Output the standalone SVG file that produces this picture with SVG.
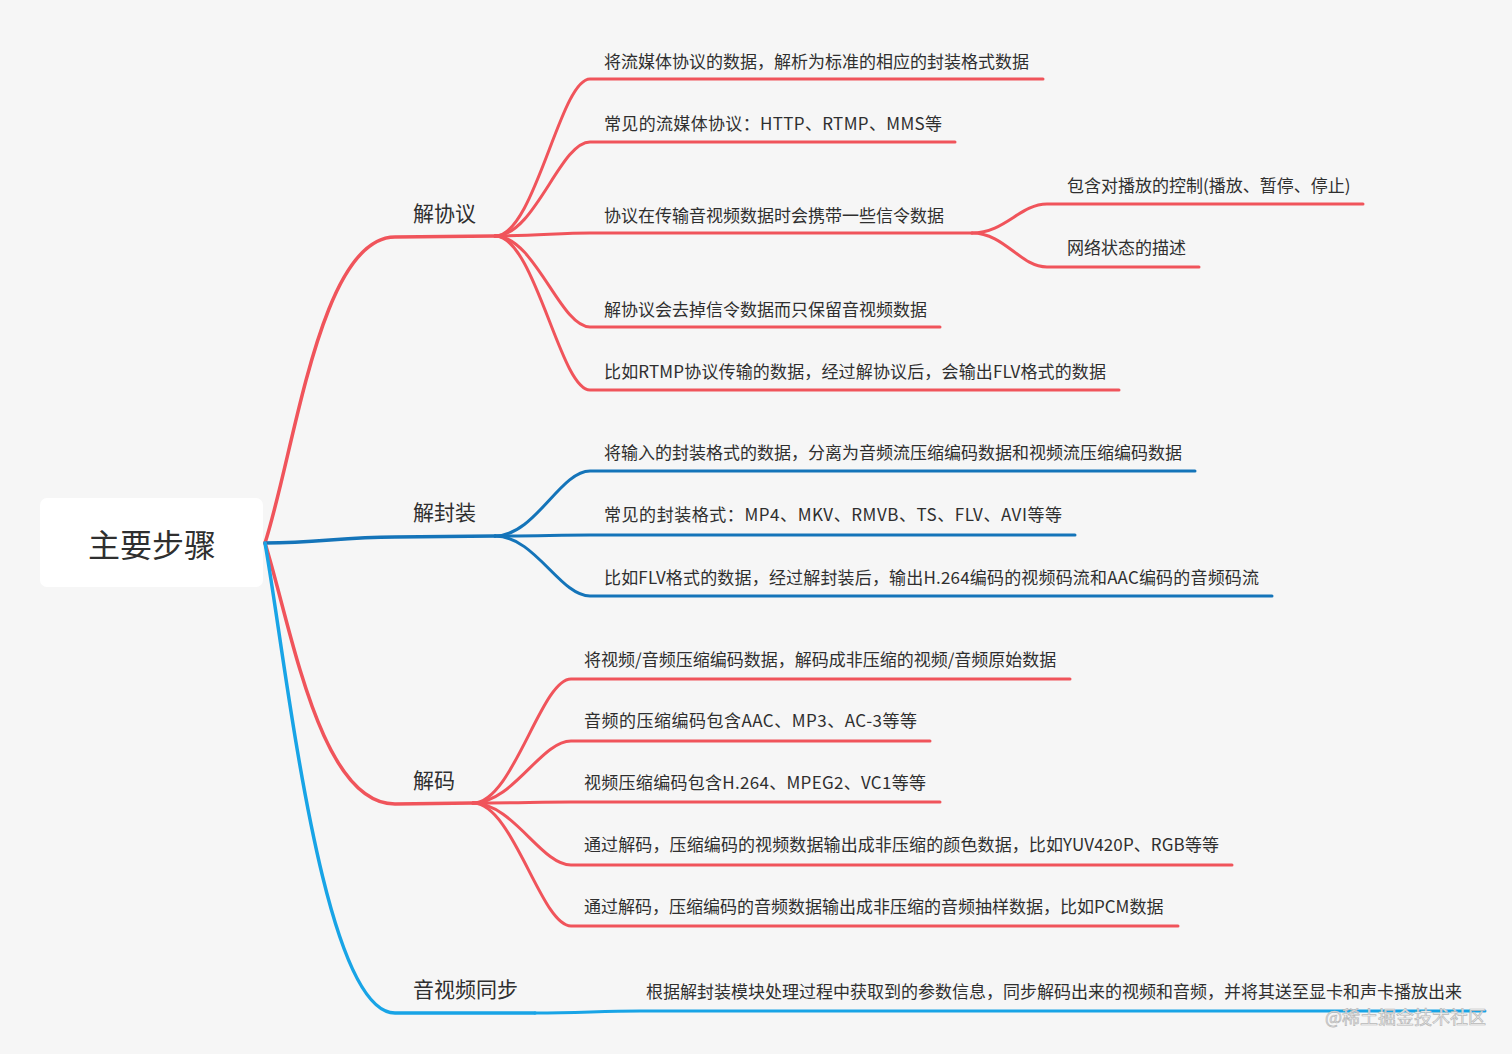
<svg xmlns="http://www.w3.org/2000/svg" width="1512" height="1054" viewBox="0 0 1512 1054">
<style>
text{font-family:"Noto Sans CJK SC","Noto Sans",sans-serif;fill:#2f2f2f;dominant-baseline:central}
.leaf{font-size:17px}
.branch{font-size:21px}
.root{font-size:32px}
.r{stroke:#f0545b;fill:none;stroke-linecap:round}
.b{stroke:#1474b9;fill:none;stroke-linecap:round}
.lb{stroke:#18a4e6;fill:none;stroke-linecap:round}
.w1{stroke-width:3.5}
.w2{stroke-width:3}
.wm{font-size:18px;fill:#f4f4f4;stroke:#b8b8b8;stroke-width:0.7}
</style>
<rect width="1512" height="1054" fill="#f6f6f6"/>
<g id="connectors">
  <path class="r w1" d="M265,543 C295,450 320,237 395,237 L495,236"/>
  <path class="b w1" d="M265,543 C320,543 340,537 395,537 L495,536"/>
  <path class="r w1" d="M265,543 C292,630 320,804 395,804 L473,803"/>
  <path class="lb w1" d="M265,543 C286,660 322,1013 395,1013 L535,1013"/>
  <path class="r w2" d="M495,236 C535,236 560,79 590,79 L1043,79"/>
  <path class="r w2" d="M495,236 C535,236 560,142 590,142 L955,142"/>
  <path class="r w2" d="M495,236 C535,236 560,233 590,233 L972,233"/>
  <path class="r w2" d="M495,236 C535,236 560,327 590,327 L940,327"/>
  <path class="r w2" d="M495,236 C535,236 560,390 590,390 L1119,390"/>
  <path class="r w2" d="M972,233 C1005,233 1020,204 1047,204 L1363,204"/>
  <path class="r w2" d="M972,233 C1005,233 1020,267 1047,267 L1199,267"/>
  <path class="b w2" d="M495,536 C535,536 560,471 590,471 L1195,471"/>
  <path class="b w2" d="M495,536 C535,536 560,535 590,535 L1075,535"/>
  <path class="b w2" d="M495,536 C535,536 560,596 590,596 L1272,596"/>
  <path class="r w2" d="M473,803 C513,803 541,679 571,679 L1070,679"/>
  <path class="r w2" d="M473,803 C513,803 541,741 571,741 L930,741"/>
  <path class="r w2" d="M473,803 C513,803 541,802 571,802 L940,802"/>
  <path class="r w2" d="M473,803 C513,803 541,865 571,865 L1232,865"/>
  <path class="r w2" d="M473,803 C513,803 541,926 571,926 L1178,926"/>
  <path class="lb w2" d="M535,1013 C580,1013 600,1011 640,1011 L1485,1011"/>
</g>
<g id="root">
  <rect x="40" y="498" width="223" height="89" rx="7" fill="#ffffff"/>
  <text class="root" x="152" y="543" text-anchor="middle">主要步骤</text>
</g>
<g id="b1"><text class="branch" x="413" y="212">解协议</text></g>
<g id="b2"><text class="branch" x="413" y="511">解封装</text></g>
<g id="b3"><text class="branch" x="413" y="779">解码</text></g>
<g id="b4"><text class="branch" x="413" y="988">音视频同步</text></g>
<g id="l1-1"><text class="leaf" x="604" y="60">将流媒体协议的数据，解析为标准的相应的封装格式数据</text></g>
<g id="l1-2"><text class="leaf" x="604" y="122" textLength="338" lengthAdjust="spacing">常见的流媒体协议：HTTP、RTMP、MMS等</text></g>
<g id="l1-3"><text class="leaf" x="604" y="214">协议在传输音视频数据时会携带一些信令数据</text></g>
<g id="l1-3-1"><text class="leaf" x="1067" y="184">包含对播放的控制(播放、暂停、停止)</text></g>
<g id="l1-3-2"><text class="leaf" x="1067" y="246">网络状态的描述</text></g>
<g id="l1-4"><text class="leaf" x="604" y="308">解协议会去掉信令数据而只保留音视频数据</text></g>
<g id="l1-5"><text class="leaf" x="604" y="370" textLength="502" lengthAdjust="spacing">比如RTMP协议传输的数据，经过解协议后，会输出FLV格式的数据</text></g>
<g id="l2-1"><text class="leaf" x="604" y="451">将输入的封装格式的数据，分离为音频流压缩编码数据和视频流压缩编码数据</text></g>
<g id="l2-2"><text class="leaf" x="604" y="513" textLength="458" lengthAdjust="spacing">常见的封装格式：MP4、MKV、RMVB、TS、FLV、AVI等等</text></g>
<g id="l2-3"><text class="leaf" x="604" y="576" textLength="655" lengthAdjust="spacing">比如FLV格式的数据，经过解封装后，输出H.264编码的视频码流和AAC编码的音频码流</text></g>
<g id="l3-1"><text class="leaf" x="584" y="658">将视频/音频压缩编码数据，解码成非压缩的视频/音频原始数据</text></g>
<g id="l3-2"><text class="leaf" x="584" y="719" textLength="333" lengthAdjust="spacing">音频的压缩编码包含AAC、MP3、AC-3等等</text></g>
<g id="l3-3"><text class="leaf" x="584" y="781" textLength="342" lengthAdjust="spacing">视频压缩编码包含H.264、MPEG2、VC1等等</text></g>
<g id="l3-4"><text class="leaf" x="584" y="843" textLength="635" lengthAdjust="spacing">通过解码，压缩编码的视频数据输出成非压缩的颜色数据，比如YUV420P、RGB等等</text></g>
<g id="l3-5"><text class="leaf" x="584" y="905">通过解码，压缩编码的音频数据输出成非压缩的音频抽样数据，比如PCM数据</text></g>
<g id="l4-1"><text class="leaf" x="646" y="990">根据解封装模块处理过程中获取到的参数信息，同步解码出来的视频和音频，并将其送至显卡和声卡播放出来</text></g>
<text class="wm" x="1325" y="1016">@稀土掘金技术社区</text>
</svg>
